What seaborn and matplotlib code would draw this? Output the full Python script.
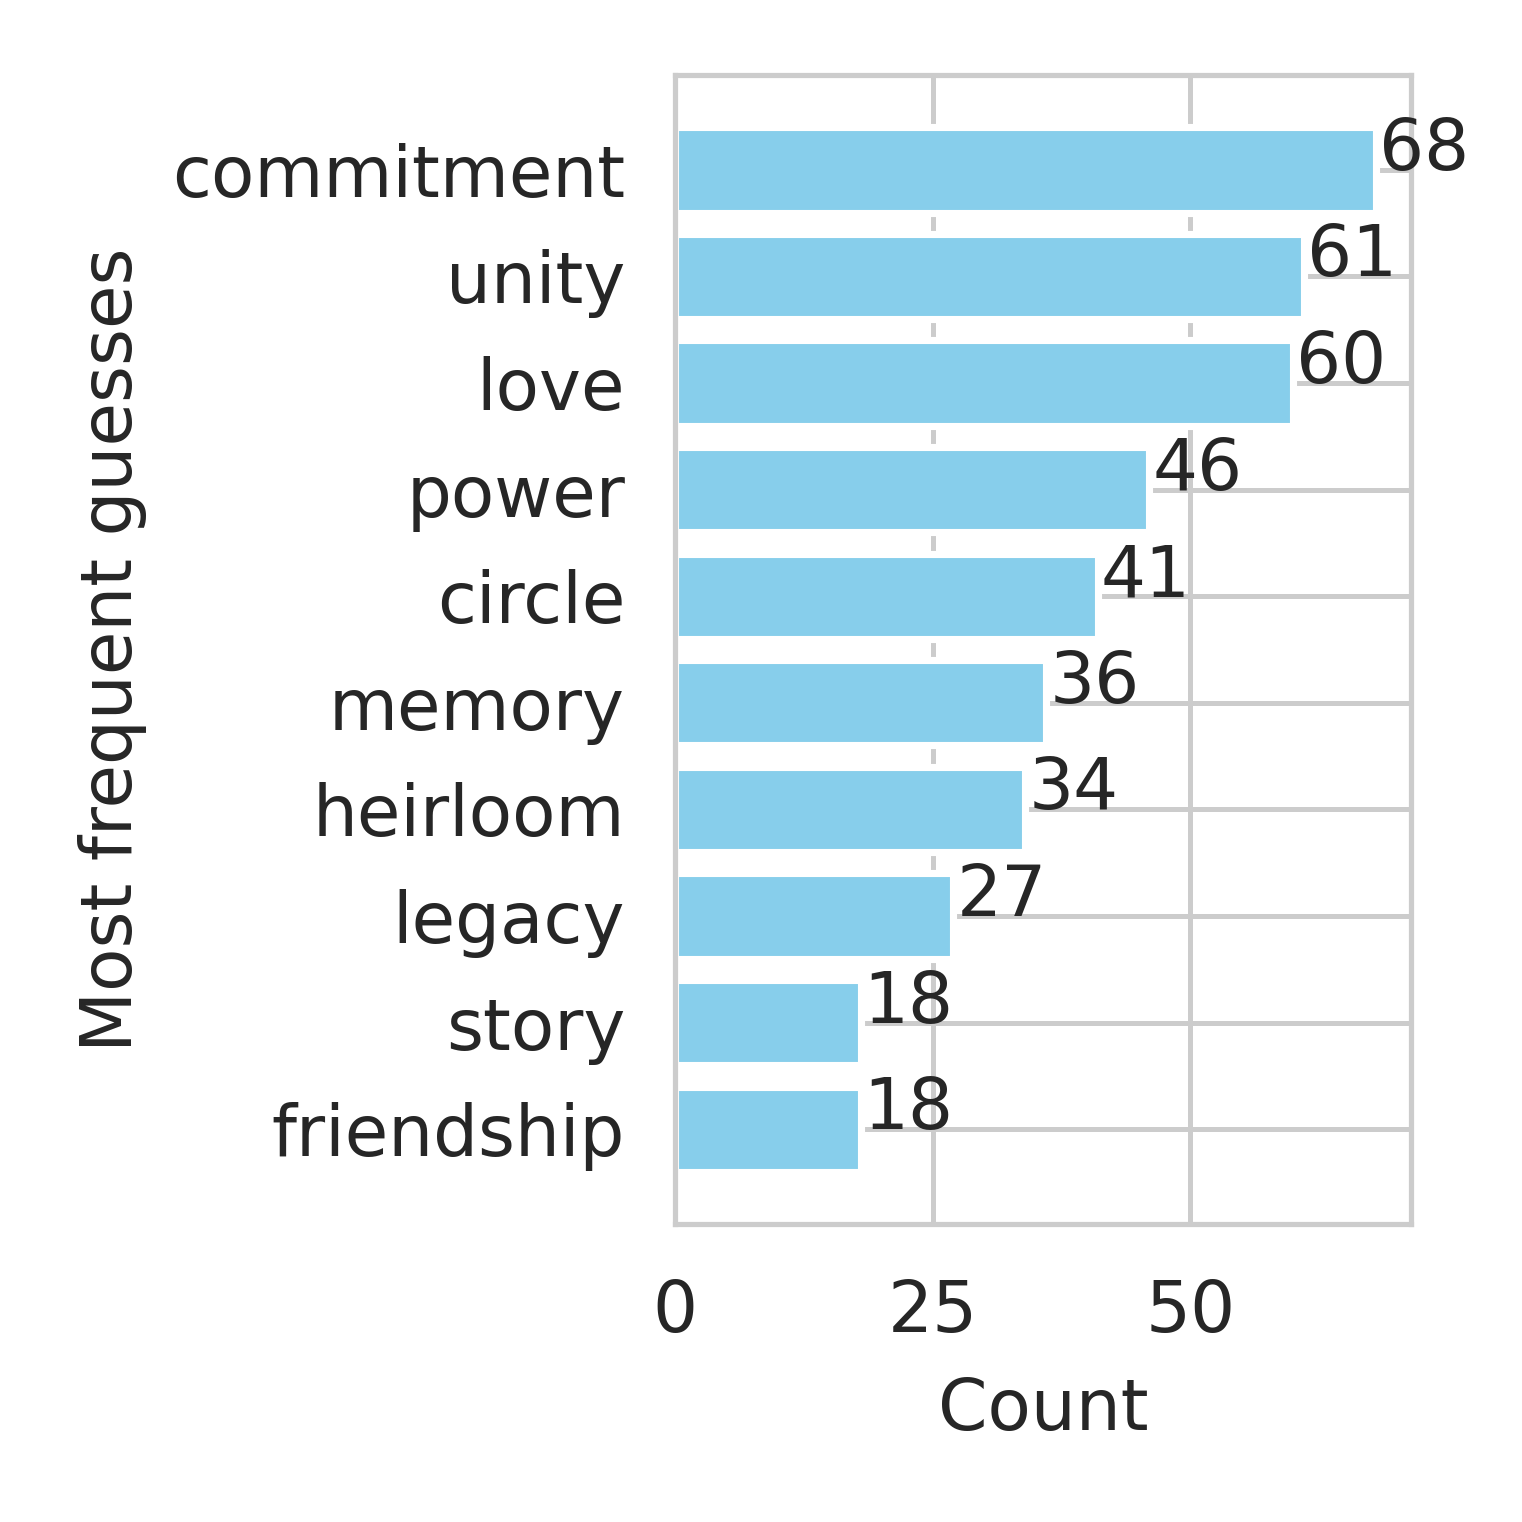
import numpy as np
import matplotlib.pyplot as plt
import seaborn as sns

guesses = ['commitment', 'unity', 'love', 'power', 'circle',
           'memory', 'heirloom', 'legacy', 'story', 'friendship']
counts = [68, 61, 60, 46, 41, 36, 34, 27, 18, 18]

sns.set_theme(style='whitegrid')
plt.rcParams['font.family'] = ['DejaVu Sans']

fig = plt.figure(figsize=(1522 / 300, 1522 / 300), dpi=300)
ax = fig.add_axes([0.4435, 0.1958, 0.4835, 0.7549])

# barre dal basso verso l'alto, commitment in cima
pos = np.arange(len(guesses))[::-1]
ax.barh(pos, counts, height=0.8, color='skyblue', edgecolor='white', linewidth=1.7)

for p, v in zip(pos, counts):
    ax.text(v + 0.3, p, str(v), fontsize=17, color='#262626')

ax.set_yticks(pos)
ax.set_yticklabels(guesses)
ax.set_xticks([0, 25, 50])
ax.tick_params(axis='both', labelsize=17, length=0, colors='#262626')
ax.tick_params(axis='x', pad=13)
ax.tick_params(axis='y', pad=12)
ax.set_xlabel('Count', fontsize=17, color='#262626', labelpad=7)
ax.set_ylabel('Most frequent guesses', fontsize=17, color='#262626', labelpad=6)

for s in ax.spines.values():
    s.set_color('#cccccc')
    s.set_linewidth(1.25)
ax.grid(True, color='#cccccc', linewidth=1.2)
ax.set_axisbelow(True)

fig.savefig('out.png', dpi=300)
